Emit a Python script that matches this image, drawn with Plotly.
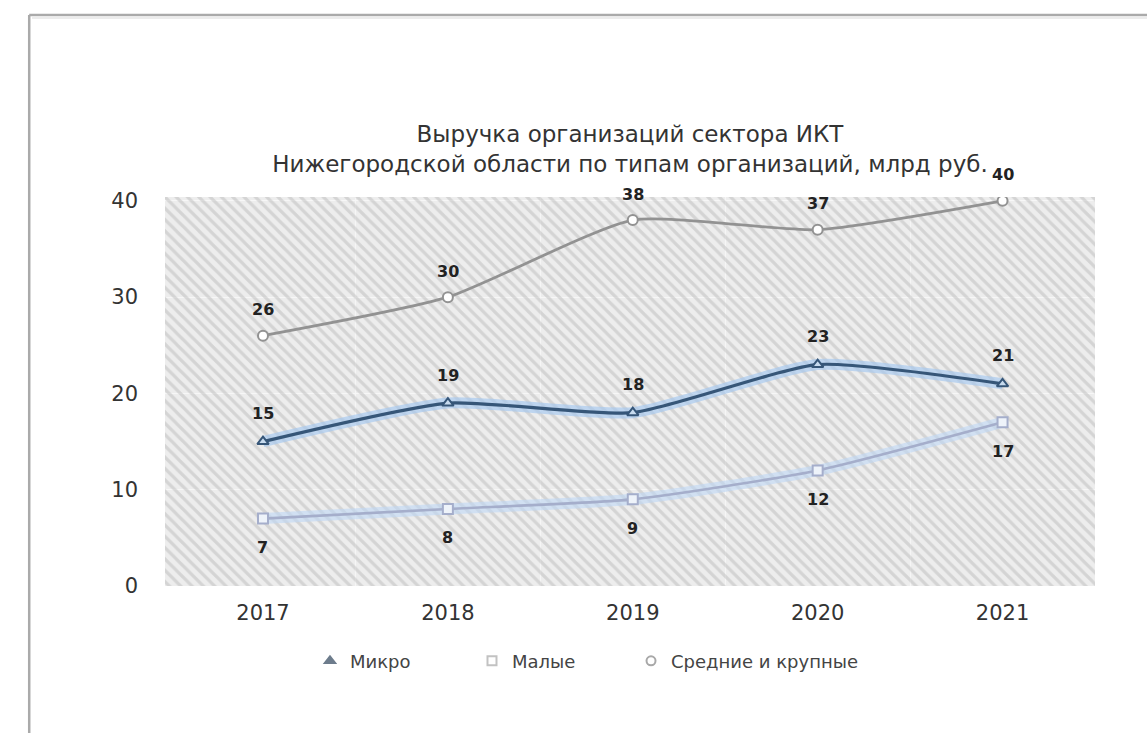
import plotly.graph_objects as go

# Revenue of ICT-sector organisations, Nizhny Novgorod region, bn rub.
years = ["2017", "2018", "2019", "2020", "2021"]
micro = [15, 19, 18, 23, 21]
small = [7, 8, 9, 12, 17]
medium_large = [26, 30, 38, 37, 40]

series_names = ["Микро", "Малые", "Средние и крупные"]
y_ticks = [0, 10, 20, 30, 40]

title_text = ("Выручка организаций сектора ИКТ<br>"
              "Нижегородской области по типам организаций, млрд руб.")

xpos = list(range(len(years)))
x_range = [-0.53, len(years) - 0.5]
y_range = [0, 40.4]

FONT = "DejaVu Sans, Verdana, sans-serif"

fig = go.Figure()

# hatched plot background
fig.add_trace(go.Scatter(
    x=[x_range[0], x_range[1], x_range[1], x_range[0], x_range[0]],
    y=[y_range[0], y_range[0], y_range[1], y_range[1], y_range[0]],
    mode="none", fill="toself", fillcolor="rgba(0,0,0,0)",
    fillpattern=dict(shape="\\", fgcolor="#bcbcbc", bgcolor="rgba(0,0,0,0)",
                     size=8, solidity=0.4),
    hoverinfo="skip", showlegend=False,
))

SMOOTH = 0.55

# soft glow under the blue lines
for vals, glow in [(small, "rgba(190,215,245,0.6)"), (micro, "rgba(165,200,240,0.65)")]:
    fig.add_trace(go.Scatter(
        x=xpos, y=vals, mode="lines",
        line=dict(color=glow, width=11, shape="spline", smoothing=SMOOTH),
        hoverinfo="skip", showlegend=False,
    ))

styles = [
    (medium_large, "#929292", 2.8, "circle", "#ffffff", 10),
    (small, "#a5aecb", 2.6, "square", "#eef3fa", 10),
    (micro, "#365678", 3.2, "triangle-up", "#c7dbef", 10),
]
for vals, col, w, sym, fillc, sz in styles:
    fig.add_trace(go.Scatter(
        x=xpos, y=vals, mode="lines+markers",
        line=dict(color=col, width=w, shape="spline", smoothing=SMOOTH),
        marker=dict(symbol=sym, size=sz, color=fillc, line=dict(color=col, width=2)),
        showlegend=False,
    ))

# legend entries (markers only), one legend box per series
legend_styles = [
    ("triangle-up", "#6d7c8c", "#6d7c8c"),
    ("square", "#ffffff", "#c2c2c2"),
    ("circle", "#ffffff", "#a8a8a8"),
]
legend_ids = ["legend", "legend2", "legend3"]
legend_x = [0.1559, 0.3301, 0.5011]
for name, (sym, fc, lc), lid in zip(series_names, legend_styles, legend_ids):
    fig.add_trace(go.Scatter(
        x=[None], y=[None], mode="markers", name=name, legend=lid,
        marker=dict(symbol=sym, size=9, color=fc, line=dict(color=lc, width=2)),
    ))

# value labels
annotations = []
for vals, shift in [(medium_large, 26), (micro, 28), (small, -29)]:
    for xi, v in zip(xpos, vals):
        annotations.append(dict(
            x=xi, y=v, xref="x", yref="y", text=f"<b>{v}</b>",
            showarrow=False, yshift=shift,
            font=dict(family=FONT, size=16, color="#222222"),
        ))

legend_common = dict(orientation="h", xanchor="left", y=-0.193, yanchor="middle",
                     font=dict(family=FONT, size=18, color="#444444"),
                     bgcolor="rgba(0,0,0,0)")

fig.update_layout(
    width=1147, height=733,
    margin=dict(l=165, r=52, t=197, b=147),
    paper_bgcolor="white", plot_bgcolor="#ededed",
    font=dict(family=FONT, color="#333333"),
    title=dict(text=title_text, x=0.5, xref="paper", xanchor="center",
               y=1 - 142 / 733, yref="container", yanchor="middle",
               font=dict(family=FONT, size=23, color="#333333")),
    xaxis=dict(range=x_range, tickvals=xpos, ticktext=years, showgrid=False,
               zeroline=False, showline=False, ticks="", ticklabelstandoff=12,
               tickfont=dict(family=FONT, size=21, color="#333333"),
               minor=dict(tickvals=[p + 0.5 for p in xpos[:-1]], showgrid=True,
                          gridcolor="#f6f6f6", gridwidth=1)),
    yaxis=dict(range=y_range, tickvals=y_ticks, showgrid=True, gridcolor="#f7f7f7",
               gridwidth=1, zeroline=False, showline=False, ticks="",
               ticklabelstandoff=26,
               tickfont=dict(family=FONT, size=21, color="#333333")),
    legend=dict(x=legend_x[0], **legend_common),
    legend2=dict(x=legend_x[1], **legend_common),
    legend3=dict(x=legend_x[2], **legend_common),
    annotations=annotations,
    shapes=[
        dict(type="line", xref="paper", yref="paper", x0=-0.146, x1=-0.146,
             y0=-0.5, y1=1.468, line=dict(color="#aaaaaa", width=2.5)),
        dict(type="line", xref="paper", yref="paper", x0=-0.146, x1=1.2,
             y0=1.468, y1=1.468, line=dict(color="#aaaaaa", width=2.5)),
        dict(type="line", xref="paper", yref="paper", x0=-0.143, x1=1.2,
             y0=1.46, y1=1.46, line=dict(color="#ececec", width=2)),
    ],
)

fig.write_html("out.html")
